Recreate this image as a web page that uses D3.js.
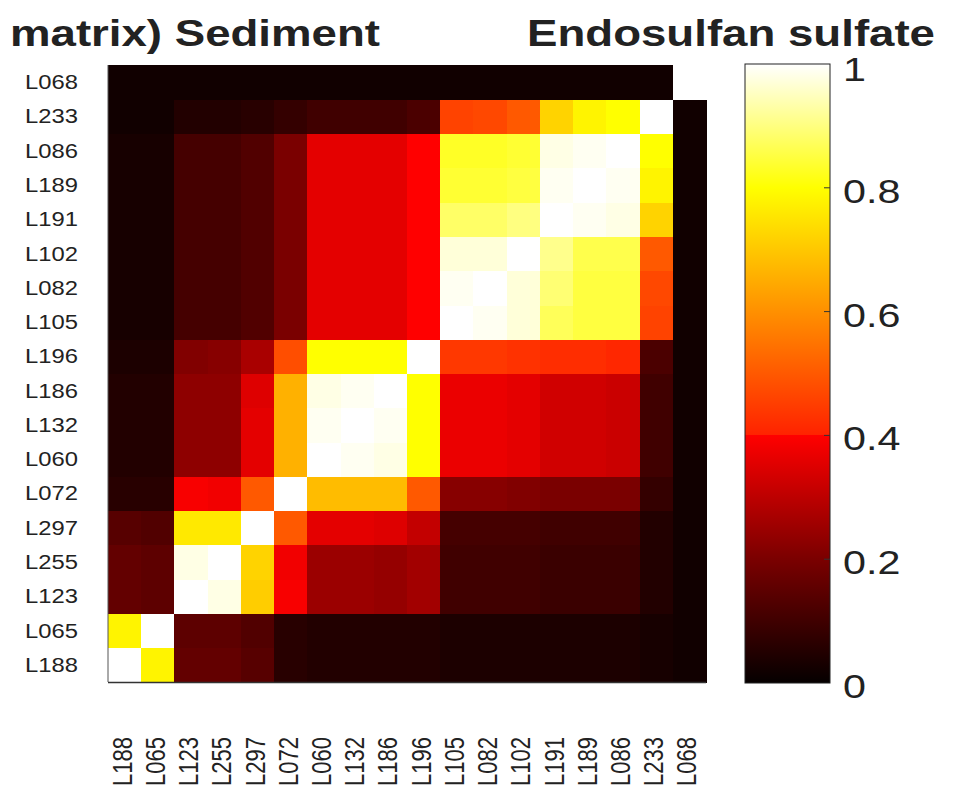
<!DOCTYPE html>
<html>
<head>
<meta charset="utf-8">
<script src="https://cdn.jsdelivr.net/npm/d3@7"></script>
<style>
  html, body { margin: 0; padding: 0; background: #ffffff; }
  svg { display: block; }
  text { font-family: "Liberation Sans", Arial, Helvetica, sans-serif; fill: #222; }
</style>
</head>
<body>
<div id="chart"></div>
<script>
// ---- data ----
const titleLeft = "matrix) Sediment";
const titleRight = "Endosulfan sulfate";

// category order along x (left -> right) and along y (bottom -> top)
const categories = ["L188","L065","L123","L255","L297","L072","L060","L132","L186","L196",
                    "L105","L082","L102","L191","L189","L086","L233","L068"];

// similarity matrix: rows/cols follow `categories`
const row_L188 = [1.00,0.78,0.16,0.16,0.14,0.06,0.05,0.05,0.05,0.05,0.04,0.04,0.04,0.04,0.04,0.04,0.03,0.02];
const row_L065 = [0.78,1.00,0.15,0.15,0.13,0.06,0.05,0.05,0.05,0.05,0.04,0.04,0.04,0.04,0.04,0.04,0.03,0.02];
const row_L123 = [0.16,0.15,1.00,0.98,0.71,0.39,0.25,0.25,0.24,0.26,0.10,0.10,0.10,0.09,0.09,0.09,0.05,0.02];
const row_L255 = [0.16,0.15,0.98,1.00,0.72,0.38,0.25,0.25,0.24,0.26,0.10,0.10,0.10,0.09,0.09,0.09,0.05,0.02];
const row_L297 = [0.14,0.13,0.76,0.76,1.00,0.50,0.36,0.36,0.35,0.31,0.11,0.11,0.11,0.10,0.10,0.10,0.05,0.02];
const row_L072 = [0.06,0.06,0.39,0.38,0.50,1.00,0.68,0.68,0.68,0.50,0.22,0.22,0.21,0.20,0.20,0.20,0.08,0.02];
const row_L060 = [0.05,0.05,0.23,0.23,0.36,0.66,1.00,0.99,0.98,0.80,0.37,0.37,0.36,0.33,0.33,0.32,0.10,0.02];
const row_L132 = [0.05,0.05,0.23,0.23,0.36,0.66,0.99,1.00,0.99,0.80,0.37,0.37,0.36,0.33,0.33,0.32,0.10,0.02];
const row_L186 = [0.05,0.05,0.23,0.23,0.35,0.66,0.98,0.99,1.00,0.80,0.37,0.37,0.36,0.33,0.33,0.32,0.10,0.02];
const row_L196 = [0.04,0.04,0.21,0.22,0.27,0.48,0.80,0.80,0.80,1.00,0.44,0.44,0.43,0.42,0.42,0.41,0.12,0.02];
const row_L105 = [0.03,0.03,0.11,0.11,0.13,0.20,0.36,0.36,0.36,0.40,1.00,0.99,0.97,0.87,0.85,0.85,0.46,0.02];
const row_L082 = [0.03,0.03,0.11,0.11,0.13,0.20,0.36,0.36,0.36,0.40,0.99,1.00,0.97,0.89,0.85,0.85,0.47,0.02];
const row_L102 = [0.03,0.03,0.11,0.11,0.13,0.20,0.36,0.36,0.36,0.40,0.97,0.97,1.00,0.91,0.86,0.86,0.50,0.02];
const row_L191 = [0.03,0.03,0.11,0.11,0.13,0.20,0.36,0.36,0.36,0.40,0.88,0.88,0.90,1.00,0.99,0.98,0.72,0.02];
const row_L189 = [0.03,0.03,0.11,0.11,0.13,0.20,0.36,0.36,0.36,0.40,0.84,0.84,0.85,0.99,1.00,0.99,0.78,0.02];
const row_L086 = [0.03,0.03,0.11,0.11,0.13,0.20,0.36,0.36,0.36,0.40,0.83,0.83,0.84,0.98,0.99,1.00,0.80,0.02];
const row_L233 = [0.02,0.02,0.05,0.05,0.06,0.08,0.10,0.10,0.10,0.12,0.46,0.47,0.50,0.72,0.78,0.80,1.00,0.02];
const row_L068 = [0.02,0.02,0.02,0.02,0.02,0.02,0.02,0.02,0.02,0.02,0.02,0.02,0.02,0.02,0.02,0.02,0.02,1.00];

const matrixRows = [row_L188,row_L065,row_L123,row_L255,row_L297,row_L072,row_L060,row_L132,row_L186,
                    row_L196,row_L105,row_L082,row_L102,row_L191,row_L189,row_L086,row_L233,row_L068];

const colorTicks = [0, 0.2, 0.4, 0.6, 0.8, 1];
const colorTickLabels = ["0", "0.2", "0.4", "0.6", "0.8", "1"];

// ---- layout ----
const W = 956, H = 798;
const plot = { left: 108, right: 706, top: 65, bottom: 682 };
const cbar = { left: 745, right: 830, top: 64, bottom: 683 };
const SX = 1.22; // horizontal stretch of the reference's text

const svg = d3.select("#chart").append("svg").attr("width", W).attr("height", H);

const x = d3.scaleBand().domain(categories).range([plot.left, plot.right]).padding(0);
const y = d3.scaleBand().domain(categories).range([plot.bottom, plot.top]).padding(0);

const color = d3.scaleLinear()
  .domain([0, 0.2, 0.4, 0.4001, 0.6, 0.8, 1])
  .range(["#050000", "#7a0000", "#ff0000", "#ff2200", "#ff9000", "#ffff00", "#ffffff"])
  .interpolate(d3.interpolateRgb)
  .clamp(true);

// cells
const cells = [];
matrixRows.forEach((row, r) => row.forEach((v, c) => cells.push({ r: categories[r], c: categories[c], v })));

svg.append("g").selectAll("rect").data(cells).join("rect")
  .attr("x", d => x(d.c))
  .attr("y", d => y(d.r))
  .attr("width", x.bandwidth() + 0.6)
  .attr("height", y.bandwidth() + 0.6)
  .attr("fill", d => color(d.v))
  .attr("shape-rendering", "crispEdges");

// axis lines (left and bottom)
svg.append("line").attr("x1", plot.left).attr("x2", plot.left).attr("y1", plot.top).attr("y2", plot.bottom)
  .attr("stroke", "#555").attr("stroke-width", 1);
svg.append("line").attr("x1", plot.left).attr("x2", plot.right).attr("y1", plot.bottom + 0.5).attr("y2", plot.bottom + 0.5)
  .attr("stroke", "#333").attr("stroke-width", 1.5);

// y labels
svg.append("g").selectAll("text").data(categories).join("text")
  .attr("transform", d => `translate(78,${y(d) + y.bandwidth() / 2 + 7}) scale(${SX},1)`)
  .attr("text-anchor", "end")
  .attr("font-size", 19.5)
  .text(d => d);

// x labels (rotated)
svg.append("g").selectAll("text").data(categories).join("text")
  .attr("transform", d => `translate(${x(d) + x.bandwidth() / 2 + 7},737) scale(${SX},1) rotate(-90)`)
  .attr("text-anchor", "end")
  .attr("font-size", 22)
  .text(d => d);

// colorbar
const cy = d3.scaleLinear().domain([0, 1]).range([cbar.bottom, cbar.top]);
const defs = svg.append("defs");
const grad = defs.append("linearGradient").attr("id", "cbgrad")
  .attr("x1", 0).attr("y1", 1).attr("x2", 0).attr("y2", 0);
color.domain().forEach(t => grad.append("stop").attr("offset", t).attr("stop-color", color(t)));

svg.append("rect").attr("x", cbar.left).attr("y", cbar.top)
  .attr("width", cbar.right - cbar.left).attr("height", cbar.bottom - cbar.top)
  .attr("fill", "url(#cbgrad)").attr("stroke", "#222").attr("stroke-width", 1);

svg.append("g").selectAll("line").data(colorTicks.slice(1, -1)).join("line")
  .attr("x1", cbar.right - 6).attr("x2", cbar.right)
  .attr("y1", d => cy(d)).attr("y2", d => cy(d))
  .attr("stroke", "#333").attr("stroke-width", 1);

svg.append("g").selectAll("text").data(colorTicks).join("text")
  .attr("transform", (d, i) => `translate(843,${cy(d) + (d === 1 ? 17 : 15)}) scale(1.25,1)`)
  .attr("font-size", 33)
  .text((d, i) => colorTickLabels[i]);

// titles
svg.append("text").attr("x", 10).attr("y", 46)
  .attr("font-size", 37).attr("font-weight", "bold").attr("fill", "#111")
  .attr("textLength", 370).attr("lengthAdjust", "spacingAndGlyphs")
  .text(titleLeft);
svg.append("text").attr("x", 527).attr("y", 46)
  .attr("font-size", 37).attr("font-weight", "bold").attr("fill", "#111")
  .attr("textLength", 408).attr("lengthAdjust", "spacingAndGlyphs")
  .text(titleRight);
</script>
</body>
</html>
